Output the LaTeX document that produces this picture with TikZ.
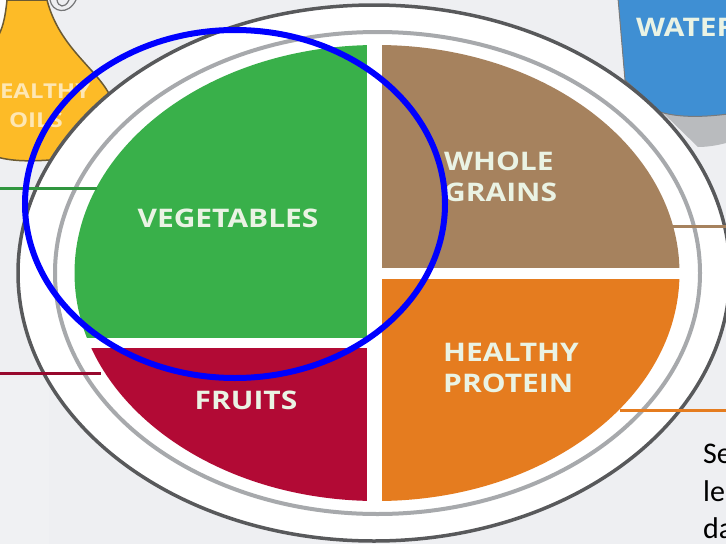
\documentclass[tikz,border=0pt]{standalone}
\usepackage{fontspec}
\setmainfont{Open Sans}
\newfontfamily\labelfont[FakeStretch=1.17]{Open Sans}
\newfontfamily\bodyfont{Carlito}
\definecolor{bgc}{HTML}{EEEFF2}
\definecolor{panelc}{HTML}{F0F1F3}
\definecolor{oilc}{HTML}{FDBB27}
\definecolor{oill}{HTML}{6B5A33}
\definecolor{waterc}{HTML}{3F8FD3}
\definecolor{rimc}{HTML}{B9BBBE}
\definecolor{platec}{HTML}{58595B}
\definecolor{ringc}{HTML}{A7A9AC}
\definecolor{vegc}{HTML}{39B04A}
\definecolor{grainc}{HTML}{A6825E}
\definecolor{fruitc}{HTML}{B20A35}
\definecolor{protc}{HTML}{E57C1F}
\definecolor{labelc}{HTML}{EAF3E4}
\tikzset{
  x=1pt,y=-1pt,
  foodlabel/.style={font=\labelfont\bfseries\fontsize{25.6}{31}\selectfont,text=labelc,align=left,inner sep=0pt},
  oillabel/.style={font=\labelfont\bfseries\fontsize{20.5}{29}\selectfont,text=oilc!35!white,align=center,inner sep=0pt},
  bodytext/.style={font=\bodyfont\fontsize{30}{37}\selectfont,text=black,inner sep=0pt,anchor=base west},
  leader/.style={line width=3pt},
}
\begin{document}
\begin{tikzpicture}
\useasboundingbox (0,0) rectangle (726,544);
\clip (0,0) rectangle (726,544);
\fill[bgc] (0,0) rectangle (726,544);
\fill[panelc] (0,378) rectangle (49,544);
% oil bottle
\fill[white!90!bgc] (0,0) rectangle (8,40);
\filldraw[fill=oilc,draw=oill,line width=1.5pt] (7,0) .. controls (5,20) and (2,30) .. (-3,38) -- (-3,157) .. controls (15,162) and (35,161) .. (50,160) -- (112,100) .. controls (100,70) and (60,50) .. (47,0) -- cycle;
\draw[ringc!70!black,line width=1.2pt] (50,0) .. controls (52,12) and (68,16) .. (76,0);
\draw[ringc!70!black,line width=1.2pt] (57,0) .. controls (58,7) and (65,9) .. (69,0);
% water glass
\fill[rimc] (624,75) -- (726,75) -- (726,143) .. controls (715,146) and (705,147) .. (698,147) -- cycle;
\filldraw[fill=waterc,draw=platec!80,line width=1pt] (618,-2) -- (625,80) -- (660,112) .. controls (680,118) and (705,117) .. (728,114) -- (728,-2) -- cycle;
% plate
\filldraw[fill=white,draw=platec,line width=3.5pt] (374,273) ellipse [x radius=356,y radius=268];
\draw[ringc,line width=4pt] (377.5,273) ellipse [x radius=322.5,y radius=241];
% food
\begin{scope}
\clip (377,273) ellipse [x radius=302.5,y radius=228];
\fill[vegc] (0,0) rectangle (367,338);
\fill[grainc] (382,0) rectangle (726,268);
\fill[fruitc] (0,348) rectangle (367,544);
\fill[protc] (382,279) rectangle (726,544);
\end{scope}
% leaders
\coordinate (gL) at (0,188); \coordinate (gR) at (97,188);
\coordinate (rL) at (0,373); \coordinate (rR) at (101,373);
\coordinate (bL) at (672,226); \coordinate (bR) at (726,226);
\coordinate (oL) at (620,410); \coordinate (oR) at (726,410);
\draw[leader,draw=vegc!85!black] (gL) -- (gR);
\draw[leader,draw=fruitc!85!black] (rL) -- (rR);
\draw[leader,draw=grainc] (bL) -- (bR);
\draw[leader,draw=protc] (oL) -- (oR);
% labels
\node[foodlabel,anchor=center] (veg) at (228,218) {VEGETABLES};
\node[foodlabel,anchor=west] (grain) at (444,177) {WHOLE\\GRAINS};
\node[foodlabel,anchor=center] (fruit) at (246,400) {FRUITS};
\node[foodlabel,anchor=west] (prot) at (443,367.5) {HEALTHY\\PROTEIN};
\node[oillabel,anchor=center] (oil) at (36,106) {HEALTHY\\OILS};
\node[foodlabel,anchor=west] (water) at (636,27) {WATER};
\node[bodytext] (s1) at (703,463) {Se};
\node[bodytext] (s2) at (703,501) {le,};
\node[bodytext] (s3) at (703,538) {da};
% highlight
\draw[blue,line width=6pt] (235,204) ellipse [x radius=210,y radius=174];
\end{tikzpicture}
\end{document}
